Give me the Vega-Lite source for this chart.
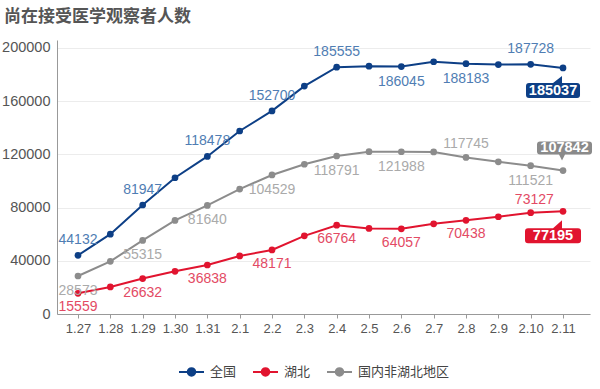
{
  "$schema": "https://vega.github.io/schema/vega-lite/v6.json",
  "width": 533,
  "height": 274,
  "autosize": "none",
  "padding": {"left": 57, "top": 40, "right": 10, "bottom": 75},
  "background": "white",
  "title": {"text": "尚在接受医学观察者人数", "anchor": "start", "frame": "group", "dx": -53, "font": "Noto Sans CJK SC", "fontSize": 17, "fontWeight": "bold", "color": "#555555", "offset": 14},
  "config": {"view": {"stroke": null}},
  "data": {"values": [
    {"date": "1.27", "series": "全国", "value": 44132},
    {"date": "1.28", "series": "全国", "value": 59990},
    {"date": "1.29", "series": "全国", "value": 81947},
    {"date": "1.30", "series": "全国", "value": 102427},
    {"date": "1.31", "series": "全国", "value": 118478},
    {"date": "2.1", "series": "全国", "value": 137594},
    {"date": "2.2", "series": "全国", "value": 152700},
    {"date": "2.3", "series": "全国", "value": 171329},
    {"date": "2.4", "series": "全国", "value": 185555},
    {"date": "2.5", "series": "全国", "value": 186354},
    {"date": "2.6", "series": "全国", "value": 186045},
    {"date": "2.7", "series": "全国", "value": 189660},
    {"date": "2.8", "series": "全国", "value": 188183},
    {"date": "2.9", "series": "全国", "value": 187518},
    {"date": "2.10", "series": "全国", "value": 187728},
    {"date": "2.11", "series": "全国", "value": 185037},
    {"date": "1.27", "series": "湖北", "value": 15559},
    {"date": "1.28", "series": "湖北", "value": 20366},
    {"date": "1.29", "series": "湖北", "value": 26632},
    {"date": "1.30", "series": "湖北", "value": 32078},
    {"date": "1.31", "series": "湖北", "value": 36838},
    {"date": "2.1", "series": "湖北", "value": 43660},
    {"date": "2.2", "series": "湖北", "value": 48171},
    {"date": "2.3", "series": "湖北", "value": 58740},
    {"date": "2.4", "series": "湖北", "value": 66764},
    {"date": "2.5", "series": "湖北", "value": 64300},
    {"date": "2.6", "series": "湖北", "value": 64057},
    {"date": "2.7", "series": "湖北", "value": 67800},
    {"date": "2.8", "series": "湖北", "value": 70438},
    {"date": "2.9", "series": "湖北", "value": 73127},
    {"date": "2.10", "series": "湖北", "value": 76207},
    {"date": "2.11", "series": "湖北", "value": 77195},
    {"date": "1.27", "series": "国内非湖北地区", "value": 28573},
    {"date": "1.28", "series": "国内非湖北地区", "value": 39624},
    {"date": "1.29", "series": "国内非湖北地区", "value": 55315},
    {"date": "1.30", "series": "国内非湖北地区", "value": 70349},
    {"date": "1.31", "series": "国内非湖北地区", "value": 81640},
    {"date": "2.1", "series": "国内非湖北地区", "value": 93934},
    {"date": "2.2", "series": "国内非湖北地区", "value": 104529},
    {"date": "2.3", "series": "国内非湖北地区", "value": 112589},
    {"date": "2.4", "series": "国内非湖北地区", "value": 118791},
    {"date": "2.5", "series": "国内非湖北地区", "value": 122054},
    {"date": "2.6", "series": "国内非湖北地区", "value": 121988},
    {"date": "2.7", "series": "国内非湖北地区", "value": 121860},
    {"date": "2.8", "series": "国内非湖北地区", "value": 117745},
    {"date": "2.9", "series": "国内非湖北地区", "value": 114391},
    {"date": "2.10", "series": "国内非湖北地区", "value": 111521},
    {"date": "2.11", "series": "国内非湖北地区", "value": 107842}
  ]},
  "encoding": {
    "x": {"field": "date", "type": "ordinal",
      "scale": {"type": "point", "domain": ["1.27","1.28","1.29","1.30","1.31","2.1","2.2","2.3","2.4","2.5","2.6","2.7","2.8","2.9","2.10","2.11"], "padding": 0.742, "align": 0.4375},
      "axis": {"title": null, "labelAngle": 0, "labelFont": "Liberation Sans", "labelFontSize": 13, "labelColor": "#555555", "domainColor": "#999999", "tickColor": "#999999", "tickSize": 4, "labelPadding": 4, "grid": false}},
    "y": {"field": "value", "type": "quantitative",
      "scale": {"domain": [0, 206000], "nice": false, "zero": true},
      "axis": {"title": null, "values": [0, 40000, 80000, 120000, 160000, 200000], "format": "d", "labelFont": "Liberation Sans", "labelFontSize": 14.5, "labelColor": "#555555", "ticks": false, "labelPadding": 7, "domainColor": "#999999", "gridColor": "#ececec", "gridWidth": 1}}
  },
  "layer": [
    {
      "mark": {"type": "line", "strokeWidth": 2, "point": {"filled": true, "size": 45, "opacity": 1}},
      "encoding": {
        "color": {"field": "series", "type": "nominal",
          "scale": {"domain": ["全国", "湖北", "国内非湖北地区"], "range": ["#0d3f86", "#e1142f", "#8c8c8c"]},
          "legend": {"title": null, "orient": "none", "legendX": 121, "legendY": 318, "direction": "horizontal",
            "symbolType": "M-1,0L1,0M0.3,0A0.3,0.3 0 1,1 -0.3,0A0.3,0.3 0 1,1 0.3,0Z",
            "symbolSize": 625, "symbolStrokeWidth": 2,
            "labelFont": "Noto Sans CJK SC", "labelFontSize": 13, "labelColor": "#444444",
            "columnPadding": 12, "labelOffset": 5,
            "encode": {"symbols": {"update": {"fill": {"scale": "color", "field": "value"}, "stroke": {"scale": "color", "field": "value"}, "opacity": {"value": 1}}}}}
        }
      }
    },
    {
      "transform": [{"filter": {"and": [{"field": "series", "equal": "全国"}, {"field": "date", "oneOf": ["1.27","1.29","1.31","2.2","2.4","2.10"]}]}}],
      "mark": {"type": "text", "font": "Liberation Sans", "fontSize": 14, "color": "#4f7db3", "baseline": "middle", "dy": -15},
      "encoding": {"text": {"field": "value", "type": "quantitative", "format": "d"}}
    },
    {
      "transform": [{"filter": {"and": [{"field": "series", "equal": "全国"}, {"field": "date", "oneOf": ["2.6","2.8"]}]}}],
      "mark": {"type": "text", "font": "Liberation Sans", "fontSize": 14, "color": "#4f7db3", "baseline": "middle", "dy": 15},
      "encoding": {"text": {"field": "value", "type": "quantitative", "format": "d"}}
    },
    {
      "transform": [{"filter": {"and": [{"field": "series", "equal": "国内非湖北地区"}, {"field": "date", "oneOf": ["1.27","1.29","1.31","2.2","2.4","2.6","2.10"]}]}}],
      "mark": {"type": "text", "font": "Liberation Sans", "fontSize": 14, "color": "#aaaaaa", "baseline": "middle", "dy": 15},
      "encoding": {"text": {"field": "value", "type": "quantitative", "format": "d"}}
    },
    {
      "transform": [{"filter": {"and": [{"field": "series", "equal": "国内非湖北地区"}, {"field": "date", "oneOf": ["2.8"]}]}}],
      "mark": {"type": "text", "font": "Liberation Sans", "fontSize": 14, "color": "#aaaaaa", "baseline": "middle", "dy": -13},
      "encoding": {"text": {"field": "value", "type": "quantitative", "format": "d"}}
    },
    {
      "transform": [{"filter": {"and": [{"field": "series", "equal": "湖北"}, {"field": "date", "oneOf": ["1.27","1.29","1.31","2.2","2.4","2.6","2.8"]}]}}],
      "mark": {"type": "text", "font": "Liberation Sans", "fontSize": 14, "color": "#e34a64", "baseline": "middle", "dy": 14},
      "encoding": {"text": {"field": "value", "type": "quantitative", "format": "d"}}
    },
    {
      "transform": [{"filter": {"and": [{"field": "series", "equal": "湖北"}, {"field": "date", "equal": "2.9"}]}}],
      "mark": {"type": "text", "font": "Liberation Sans", "fontSize": 14, "color": "#e34a64", "baseline": "middle", "dx": 36, "dy": -17},
      "encoding": {"text": {"field": "value", "type": "quantitative", "format": "d"}}
    },
    {
      "transform": [{"filter": {"and": [{"field": "series", "equal": "全国"}, {"field": "date", "equal": "2.11"}]}}],
      "mark": {"type": "point", "shape": "M-34,15 L-10,15 L-1,8 L-1,15 L14,15 Q17,15 17,18 L17,27 Q17,30 14,30 L-34,30 Q-37,30 -37,27 L-37,18 Q-37,15 -34,15 Z", "size": 4, "filled": true, "color": "#0d3f86", "opacity": 1, "strokeWidth": 0}
    },
    {
      "transform": [{"filter": {"and": [{"field": "series", "equal": "全国"}, {"field": "date", "equal": "2.11"}]}}],
      "mark": {"type": "text", "font": "Liberation Sans", "fontSize": 14.5, "fontWeight": "bold", "color": "white", "baseline": "middle", "dx": -10, "dy": 23},
      "encoding": {"text": {"field": "value", "type": "quantitative", "format": "d"}}
    },
    {
      "transform": [{"filter": {"and": [{"field": "series", "equal": "国内非湖北地区"}, {"field": "date", "equal": "2.11"}]}}],
      "mark": {"type": "point", "shape": "M-23,-29 L26,-29 Q29,-29 29,-26 L29,-19 Q29,-16 26,-16 L2,-16 L-1,-10 L-4,-16 L-23,-16 Q-26,-16 -26,-19 L-26,-26 Q-26,-29 -23,-29 Z", "size": 4, "filled": true, "color": "#8a8a8a", "opacity": 1, "strokeWidth": 0}
    },
    {
      "transform": [{"filter": {"and": [{"field": "series", "equal": "国内非湖北地区"}, {"field": "date", "equal": "2.11"}]}}],
      "mark": {"type": "text", "font": "Liberation Sans", "fontSize": 14.5, "fontWeight": "bold", "color": "white", "baseline": "middle", "dx": 1.5, "dy": -22.5},
      "encoding": {"text": {"field": "value", "type": "quantitative", "format": "d"}}
    },
    {
      "transform": [{"filter": {"and": [{"field": "series", "equal": "湖北"}, {"field": "date", "equal": "2.11"}]}}],
      "mark": {"type": "point", "shape": "M-35,17 L-10,17 L-1,9 L-1,17 L15,17 Q18,17 18,20 L18,29 Q18,32 15,32 L-35,32 Q-38,32 -38,29 L-38,20 Q-38,17 -35,17 Z", "size": 4, "filled": true, "color": "#e1142f", "opacity": 1, "strokeWidth": 0}
    },
    {
      "transform": [{"filter": {"and": [{"field": "series", "equal": "湖北"}, {"field": "date", "equal": "2.11"}]}}],
      "mark": {"type": "text", "font": "Liberation Sans", "fontSize": 14.5, "fontWeight": "bold", "color": "white", "baseline": "middle", "dx": -10, "dy": 24.5},
      "encoding": {"text": {"field": "value", "type": "quantitative", "format": "d"}}
    }
  ]
}
